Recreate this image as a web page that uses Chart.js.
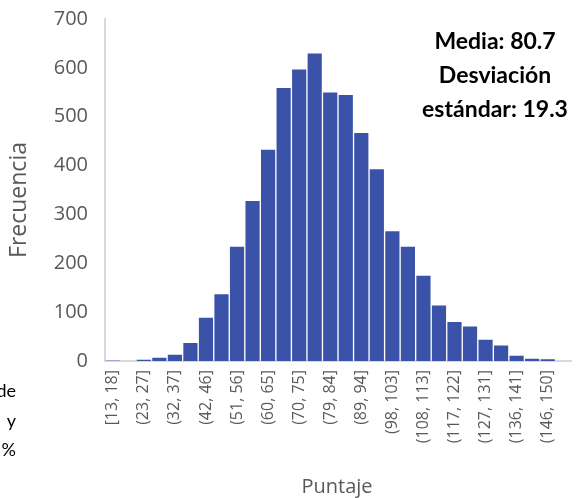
<!DOCTYPE html>
<html>
<head>
<meta charset="utf-8">
<script src="https://cdn.jsdelivr.net/npm/chart.js@4.4.1/dist/chart.umd.min.js"></script>
<style>
  html, body { margin: 0; padding: 0; background: #fff; }
  canvas { display: block; }
</style>
</head>
<body>
<canvas id="chart" width="581" height="498"></canvas>
<script>
// histogram bins (Excel style labels), only every other one is shown on the axis
const bins = [
    "[13, 18]", "(18, 23]", "(23, 27]", "(27, 32]", "(32, 37]", "(37, 42]",
    "(42, 46]", "(46, 51]", "(51, 56]", "(56, 60]", "(60, 65]", "(65, 70]",
    "(70, 75]", "(75, 79]", "(79, 84]", "(84, 89]", "(89, 94]", "(94, 98]",
    "(98, 103]", "(103, 108]", "(108, 113]", "(113, 117]", "(117, 122]", "(122, 127]",
    "(127, 131]", "(131, 136]", "(136, 141]", "(141, 146]", "(146, 150]", "(150, 155]"
];
const counts = [
    1, 0, 4, 8, 14, 38, 90, 138, 235, 329, 434, 560, 598, 631, 551,
    546, 468, 394, 267, 235, 176, 115, 81, 72, 45, 33, 12, 6, 5, 0
];
const yTicks = [0, 100, 200, 300, 400, 500, 600, 700];
const xTitle = "Puntaje";
const yTitle = "Frecuencia";
const statsLines = ["Media: 80.7", "Desviación", "estándar: 19.3"];
const cutText = ["de", "y", "%"];

const gray = "#595959";
const axisColor = "#d9d9d9";
const fontFamily = "'Open Sans', Lato, sans-serif";

const textPlugin = {
    id: "extraText",
    afterDraw: (chart) => {
        const ctx = chart.ctx;
        ctx.save();
        ctx.textAlign = "center";
        ctx.textBaseline = "middle";

        // axis titles
        ctx.fillStyle = gray;
        ctx.font = "20px " + fontFamily;
        ctx.fillText(xTitle, 337, 487);
        ctx.save();
        ctx.translate(19, 200);
        ctx.rotate(-Math.PI / 2);
        ctx.font = "23px " + fontFamily;
        ctx.fillText(yTitle, 0, 0);
        ctx.restore();

        // mean / sd box
        ctx.fillStyle = "#000";
        ctx.font = "bold 23px Lato, sans-serif";
        statsLines.forEach((line, i) => {
            ctx.fillText(line, 495, 42 + i * 34);
        });

        // text cut off at the left edge of the picture
        ctx.font = "18px Lato, sans-serif";
        ctx.textAlign = "right";
        ctx.fillText(cutText[0], 16, 391);
        ctx.fillText(cutText[1], 16, 421);
        ctx.fillText(cutText[2], 16, 450);
        ctx.restore();
    },
};

const ctx = document.getElementById("chart").getContext("2d");
new Chart(ctx, {
    type: "bar",
    data: {
        labels: bins,
        datasets: [
            {
                data: counts,
                backgroundColor: "#3a53a9",
                borderColor: "rgba(255,255,255,0.35)",
                borderWidth: 1,
                categoryPercentage: 1.0,
                barPercentage: 1.0,
            },
        ],
    },
    options: {
        responsive: false,
        animation: false,
        layout: { padding: { top: 19, right: 10, left: 0, bottom: 0 } },
        plugins: {
            legend: { display: false },
            tooltip: { enabled: false },
        },
        scales: {
            x: {
                grid: { display: false, drawTicks: false },
                border: { color: axisColor, width: 2 },
                ticks: {
                    autoSkip: false,
                    minRotation: 90,
                    maxRotation: 90,
                    padding: 9,
                    color: gray,
                    font: { family: fontFamily, size: 16 },
                    callback: function (value, index) {
                        return index % 2 === 0 ? this.getLabelForValue(value) : "";
                    },
                },
                afterFit: (scale) => {
                    scale.height = 137;
                    scale.paddingLeft = 0;
                    scale.paddingRight = 0;
                },
            },
            y: {
                min: 0,
                max: 700,
                grid: { display: false, drawTicks: false },
                border: { color: axisColor, width: 2 },
                afterBuildTicks: (scale) => {
                    scale.ticks = yTicks.map((v) => ({ value: v }));
                },
                ticks: {
                    padding: 17,
                    color: gray,
                    font: { family: fontFamily, size: 20 },
                },
                afterFit: (scale) => {
                    scale.width = 105;
                    scale.paddingTop = 0;
                    scale.paddingBottom = 0;
                },
            },
        },
    },
    plugins: [textPlugin],
});
</script>
</body>
</html>
